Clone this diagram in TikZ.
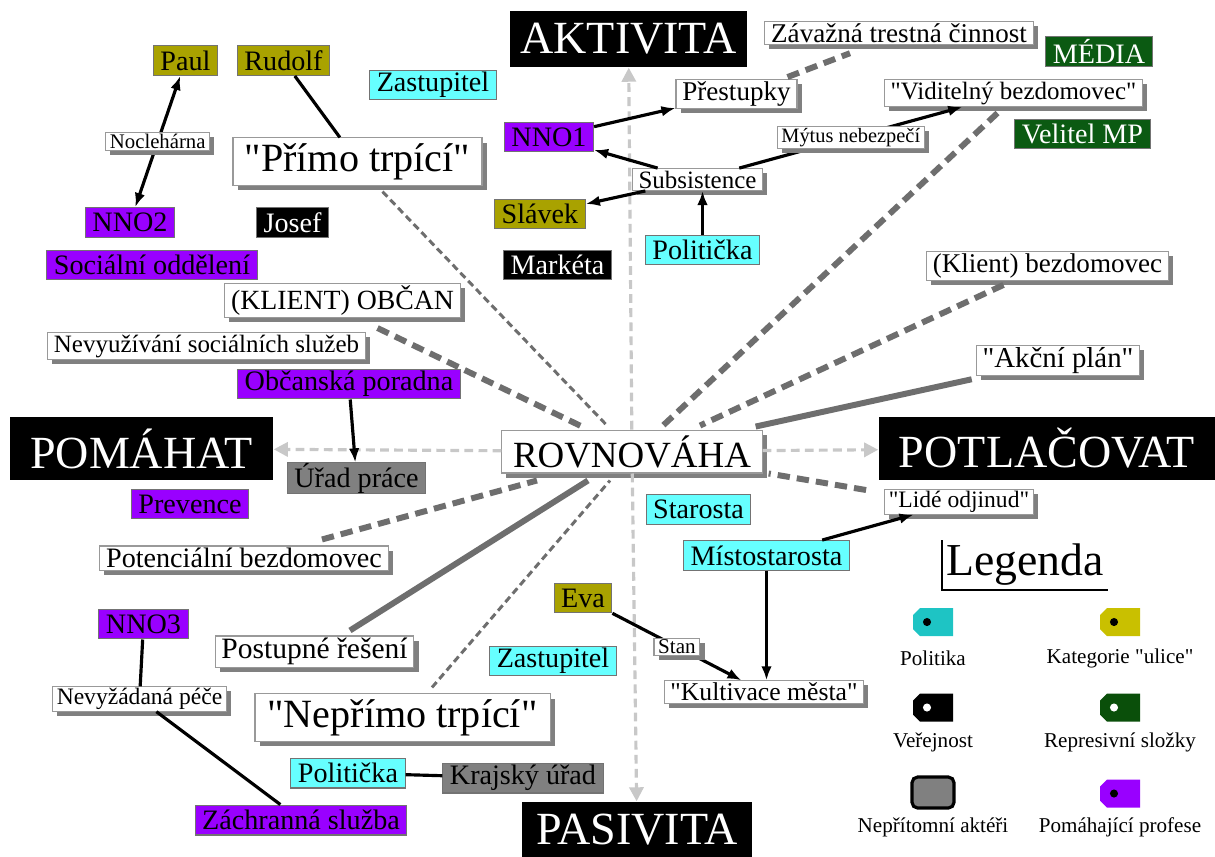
\documentclass[tikz,border=0pt]{standalone}
\usepackage{fontspec}
\setmainfont{Liberation Serif}
\usepackage{tikz}
\usetikzlibrary{positioning,arrows.meta,shadows}

\definecolor{polcyan}{HTML}{66FFFF}
\definecolor{strolive}{HTML}{A9A200}
\definecolor{helppurple}{HTML}{9900FF}
\definecolor{repgreen}{HTML}{0B5A12}
\definecolor{absgray}{HTML}{808080}
\definecolor{linegray}{HTML}{6E6E6E}
\definecolor{axisgray}{HTML}{C8C8C8}
\definecolor{legteal}{HTML}{1EC4C4}
\definecolor{legolive}{HTML}{C9C000}
\definecolor{leggreen}{HTML}{0A4F0A}

\newcommand{\fsz}[1]{\fontsize{#1}{#1}\selectfont}
% straight double quote, past the TeX ligature mapping
\newcommand{\dq}{\XeTeXglyph\XeTeXcharglyph"22\relax}

\tikzset{
  wbox/.style={draw=black!40, line width=0.3pt, fill=white, inner ysep=0.6pt, inner xsep=1.8pt,
    drop shadow={shadow xshift=1.3pt, shadow yshift=-1.3pt, fill=black!50, opacity=1}},
  wbig/.style={wbox, font=\fsz{11.4}, minimum height=13.4pt},
  wmid/.style={wbox, font=\fsz{#1}},
  wmid/.default=7.6,
  wsmall/.style={wbox, font=\fsz{#1}, inner xsep=1.2pt, inner ysep=0.4pt},
  wsmall/.default=6.2,
  head/.style={fill=black, text=white, font=\fsz{13.1}, inner xsep=2.4pt, minimum height=15.9pt},
  actor/.style={draw=black!55, line width=0.3pt, font=\fsz{8}, inner xsep=2pt, inner ysep=0pt, minimum height=8.5pt},
  pol/.style={actor, fill=polcyan},
  ulice/.style={actor, fill=strolive},
  verej/.style={actor, fill=black, text=white},
  repre/.style={actor, fill=repgreen, text=white},
  nepri/.style={actor, fill=absgray},
  pomah/.style={actor, fill=helppurple},
  conn/.style={line width=0.9pt, -{Latex[length=4pt,width=3pt]}},
  conntwo/.style={line width=0.9pt, {Latex[length=4pt,width=3pt]}-{Latex[length=4pt,width=3pt]}},
  tie/.style={line width=0.9pt},
  axis/.style={axisgray, line width=0.9pt, dash pattern=on 2.5pt off 1.5pt, -{Triangle[length=4pt,width=4pt]}},
  bond/.style={linegray, line width=1.7pt},
  weak/.style={linegray, line width=1.7pt, dash pattern=on 3.5pt off 2pt},
  faint/.style={linegray, line width=0.85pt, dash pattern=on 2pt off 1.2pt},
  legtxt/.style={font=\fsz{6}},
}

\begin{document}
\begin{tikzpicture}[x=0.01cm, y=-0.01cm]
    \useasboundingbox (0,0) rectangle (1215,856);

    % Axes and centre
    \node[head, minimum width=67.4pt] (aktivita) at (628.5,39) {AKTIVITA};
    \node[head, minimum width=65.4pt] (pasivita) at (637,830) {PASIVITA};
    \node[head, minimum width=74.8pt] (pomahat) at (141.5,448.5) {POMÁHAT};
    \node[head, minimum width=95.6pt] (potlacovat) at (1047,448.5) {POTLAČOVAT};
    \node[wbox, font=\fsz{10.5}, minimum width=74pt, minimum height=12.2pt] (rovnovaha) at (632,451.5) {ROVNOVÁHA};

    % Upper left
    \node[ulice] (paul) at (185.5,60.5) {Paul};
    \node[ulice] (rudolf) at (283.5,60.5) {Rudolf};
    \node[pol] (zastupitelA) at (433,85) {Zastupitel};
    \node[wbig, minimum width=70.8pt] (primo) at (357.5,161.5) {\dq Přímo trpící\dq};
    \node[pomah] (nnoB) at (130,222.5) {NNO2};
    \node[verej] (josef) at (292.5,222.5) {Josef};
    \node[pomah] (socialni) at (152,265) {Sociální oddělení};
    \node[wmid=7.9] (obcan) at (342.5,300.5) {(KLIENT) OBČAN};
    \node[wmid=7.1] (nevyuz) at (206.5,346) {Nevyužívání sociálních služeb};
    \node[pomah] (obcporadna) at (349,384) {Občanská poradna};
    \node[nepri] (uradprace) at (356.5,478) {Úřad práce};
    \node[pomah] (prevence) at (190,504) {Prevence};
    \node[wmid=8] (potencialni) at (244,558) {Potenciální bezdomovec};

    % Lower left
    \node[pomah] (nnoC) at (143.5,624) {NNO3};
    \node[wmid=8.4] (postupne) at (314.5,651.5) {Postupné řešení};
    \node[wsmall=6.7] (nevyzad) at (139.5,699) {Nevyžádaná péče};
    \node[wbig, minimum width=83.9pt] (neprimo) at (402.5,717.5) {\dq Nepřímo trpící\dq};
    \node[pol] (politickaB) at (348,773) {Politička};
    \node[nepri] (krajsky) at (523,778) {Krajský úřad};
    \node[pomah] (zachranna) at (301,820) {Záchranná služba};

    % Upper right
    \node[wmid=7.7] (prestupky) at (736.5,94) {Přestupky};
    \node[pomah] (nnoA) at (549,137) {NNO1};
    \node[wmid=7.1] (subsist) at (697.5,179.5) {Subsistence};
    \node[ulice] (slavek) at (540,214) {Slávek};
    \node[pol] (politickaA) at (702.5,250) {Politička};
    \node[verej] (marketa) at (557.5,265) {Markéta};
    \node[wmid=7.7] (zavazna) at (899,33) {Závažná trestná činnost};
    \node[repre] (media) at (1099,51.5) {MÉDIA};
    \node[wmid=7.1] (viditelny) at (1013.5,93) {\dq Viditelný bezdomovec\dq};
    \node[repre] (velitel) at (1082.5,134) {Velitel MP};
    \node[wmid=7.7] (klient) at (1047.5,266) {(Klient) bezdomovec};
    \node[wmid=8.2] (akcni) at (1058,360.5) {\dq Akční plán\dq};

    % Lower right
    \node[wsmall=6.7] (odjinud) at (959,502) {\dq Lidé odjinud\dq};
    \node[pol] (starosta) at (698.5,509.5) {Starosta};
    \node[pol] (mistostarosta) at (766.5,555.5) {Místostarosta};
    \node[ulice] (eva) at (583,598) {Eva};
    \node[pol] (zastupitelB) at (553,661) {Zastupitel};
    \node[wmid=7.3] (kultivace) at (764,692) {\dq Kultivace města\dq};

    % Axis arrows
    \draw[axis] (rovnovaha) -- (aktivita);
    \draw[axis] (rovnovaha) -- (pasivita);
    \draw[axis] (rovnovaha) -- (pomahat);
    \draw[axis] (rovnovaha) -- (potlacovat);

    % Ties to the centre
    \draw[weak] ([shift={(35,10)}]obcan.south) -- ([shift={(-50,-3)}]rovnovaha.north);
    \draw[faint] ([shift={(25,6)}]primo.south) -- ([shift={(-24,-3)}]rovnovaha.north);
    \draw[weak] ([shift={(-16,6)}]viditelny.south) -- ([shift={(31,-4)}]rovnovaha.north);
    \draw[weak] ([shift={(-44,4)}]klient.south) -- ([shift={(68,-4)}]rovnovaha.north);
    \draw[bond] ([shift={(-4,3)}]akcni.south west) -- ([shift={(-7,-3)}]rovnovaha.north east);
    \draw[weak] ([shift={(-18,-12)}]odjinud.west) -- ([shift={(6,0)}]rovnovaha.south east);
    \draw[bond] ([shift={(35.5,-5)}]postupne.north) -- ([shift={(-44,7)}]rovnovaha.south);
    \draw[faint] ([shift={(29.5,-6)}]neprimo.north) -- ([shift={(-22,7)}]rovnovaha.south);
    \draw[weak] ([shift={(78,-6)}]potencialni.north) -- ([shift={(-95,7)}]rovnovaha.south);
    \draw[weak] ([shift={(-10,-2)}]prestupky.north east) -- ([shift={(-49,8)}]zavazna.south);

    % Actor links
    \draw[conntwo] (paul) -- node[wsmall=5.9] (noclehar) {Noclehárna} (nnoB);
    \draw[tie] (rudolf) -- (primo);
    \draw[conn] (nnoA) -- (prestupky);
    \draw[conn] (subsist) -- (nnoA);
    \draw[conn] (subsist) -- (slavek);
    \draw[conn] (politickaA) -- (subsist.south -| politickaA);
    \draw[conn] (subsist) -- node[wsmall=5.8] (mytus) {Mýtus nebezpečí} (viditelny);
    \draw[conn] (obcporadna) -- (uradprace);
    \draw[conn] (mistostarosta) -- (odjinud);
    \draw[conn] (mistostarosta) -- (kultivace.north -| mistostarosta);
    \draw[conn] (eva) -- node[wsmall=6] (stan) {Stan} (kultivace);
    \draw[tie] (nnoC) -- (nevyzad);
    \draw[tie] (nevyzad) -- (zachranna);
    \draw[tie] (politickaB) -- (krajsky);

    % Legend
    \node[font=\fsz{13}, inner sep=1pt] (legenda) at (1025,565) {Legenda};
    \draw[line width=0.4pt] (legenda.north west) |- (legenda.south east);
    \foreach \cx/\cy/\col/\hole in {933/622/legteal/black, 1120/622/legolive/black, 933/707.5/black/white, 1120/707.5/leggreen/white, 1120/793.5/helppurple/black}{
        \fill[\col] (\cx-13,\cy-14) -- (\cx+20,\cy-14) -- (\cx+20,\cy+14) -- (\cx-13,\cy+14) -- (\cx-20,\cy+7) -- (\cx-20,\cy-7) -- cycle;
        \fill[\hole] (\cx-6,\cy) circle[radius=1.15pt];
    }
    \draw[fill=absgray, line width=0.9pt, rounded corners=1.6pt] (912,777) rectangle (954,808);
    \node[legtxt] (lpol) at (933,658) {Politika};
    \node[legtxt] (lulice) at (1120,658) {Kategorie \dq ulice\dq};
    \node[legtxt] (lverej) at (933,742) {Veřejnost};
    \node[legtxt] (lrepre) at (1120,742) {Represivní složky};
    \node[legtxt] (lnepri) at (933,827) {Nepřítomní aktéři};
    \node[legtxt] (lpomah) at (1120,827) {Pomáhající profese};
\end{tikzpicture}
\end{document}
